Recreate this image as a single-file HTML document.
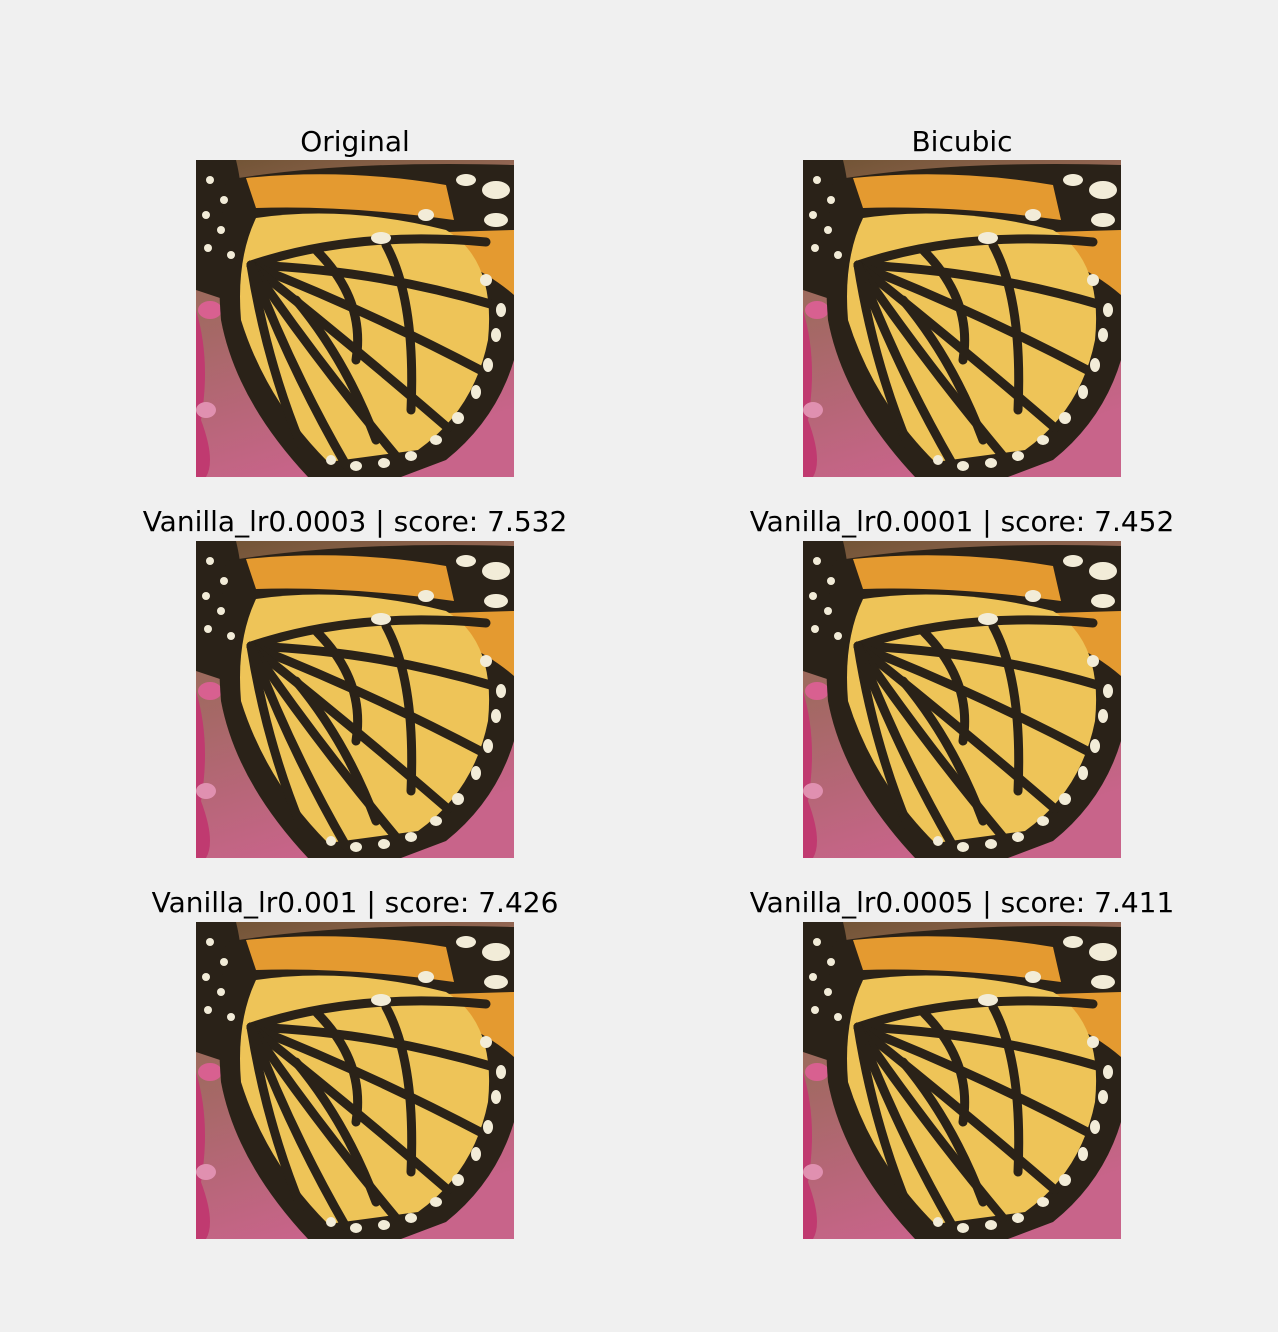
<!DOCTYPE html>
<html><head><meta charset="utf-8">
<style>
html,body{margin:0;padding:0;background:#f0f0f0;}
#fig{position:relative;width:1278px;height:1332px;background:#f0f0f0;font-family:"DejaVu Sans","Liberation Sans",sans-serif;}
.t{position:absolute;width:600px;text-align:center;font-size:28px;color:#000;line-height:32px;}
.p{position:absolute;width:318px;height:317px;}
</style></head><body>
<div id="fig">
<svg width="0" height="0" style="position:absolute">
<defs>
<linearGradient id="bg" x1="0" y1="0" x2="0.3" y2="1">
<stop offset="0" stop-color="#6e5232"/><stop offset="0.35" stop-color="#9a6a5a"/><stop offset="1" stop-color="#c8648a"/>
</linearGradient>
<g id="bfly">
<rect width="318" height="317" fill="url(#bg)"/>
<path d="M0,150 Q15,200 5,260 Q20,300 10,317 L0,317Z" fill="#c03a70"/>
<ellipse cx="14" cy="150" rx="12" ry="9" fill="#d86090"/>
<ellipse cx="10" cy="250" rx="10" ry="8" fill="#e090b0"/>
<path d="M0,0 L40,0 Q50,40 45,100 L30,140 L0,130Z" fill="#2a2218"/>
<path d="M30,20 Q150,0 318,5 L318,200 Q300,260 250,300 L205,317 L112,317 Q40,240 25,160 Q20,100 30,20Z" fill="#2a2218"/>
<path d="M50,18 Q150,8 250,25 L258,60 Q150,45 60,48Z" fill="#e49a30"/>
<path d="M250,72 L318,70 L318,135 Q295,115 262,100Z" fill="#e49a30"/>
<path d="M60,58 Q150,45 250,70 Q300,100 292,180 Q278,250 222,290 L132,302 Q70,240 45,160 Q40,100 60,58Z" fill="#eec458"/>
<g stroke="#2a2218" stroke-width="9" fill="none" stroke-linecap="round">
<path d="M55,105 Q160,70 290,82"/><path d="M55,105 Q180,110 298,145"/>
<path d="M55,105 Q170,150 288,212"/><path d="M55,105 Q150,180 252,268"/>
<path d="M55,105 Q120,200 200,296"/><path d="M55,105 Q95,210 150,305"/>
<path d="M55,105 Q70,200 105,285"/>
<path d="M120,90 Q170,140 160,200"/><path d="M190,85 Q220,140 215,250"/>
<path d="M100,140 Q150,200 180,280"/>
</g>
<g fill="#f2ecd8">
<ellipse cx="300" cy="30" rx="14" ry="9"/><ellipse cx="270" cy="20" rx="10" ry="6"/>
<ellipse cx="300" cy="60" rx="12" ry="7"/><ellipse cx="305" cy="150" rx="5" ry="7"/>
<ellipse cx="300" cy="175" rx="5" ry="7"/><ellipse cx="292" cy="205" rx="5" ry="7"/>
<ellipse cx="280" cy="232" rx="5" ry="7"/><ellipse cx="262" cy="258" rx="6" ry="6"/>
<ellipse cx="240" cy="280" rx="6" ry="5"/><ellipse cx="215" cy="296" rx="6" ry="5"/>
<ellipse cx="188" cy="303" rx="6" ry="5"/><ellipse cx="160" cy="306" rx="6" ry="5"/>
<ellipse cx="135" cy="300" rx="5" ry="5"/><ellipse cx="290" cy="120" rx="6" ry="6"/>
<ellipse cx="230" cy="55" rx="8" ry="6"/><ellipse cx="185" cy="78" rx="10" ry="6"/>
<ellipse cx="14" cy="20" rx="4" ry="4"/><ellipse cx="28" cy="40" rx="4" ry="4"/>
<ellipse cx="10" cy="55" rx="4" ry="4"/><ellipse cx="25" cy="70" rx="4" ry="4"/>
<ellipse cx="12" cy="88" rx="4" ry="4"/><ellipse cx="35" cy="95" rx="4" ry="4"/>
</g>
</g>
</defs></svg>

<div class="t" style="left:55px;top:126px">Original</div>
<div class="t" style="left:662px;top:126px">Bicubic</div>
<div class="t" style="left:55px;top:506px">Vanilla_lr0.0003 | score: 7.532</div>
<div class="t" style="left:662px;top:506px">Vanilla_lr0.0001 | score: 7.452</div>
<div class="t" style="left:55px;top:887px">Vanilla_lr0.001 | score: 7.426</div>
<div class="t" style="left:662px;top:887px">Vanilla_lr0.0005 | score: 7.411</div>

<svg class="p" style="left:196px;top:160px" viewBox="0 0 318 317"><use href="#bfly"/></svg>
<svg class="p" style="left:803px;top:160px" viewBox="0 0 318 317"><use href="#bfly"/></svg>
<svg class="p" style="left:196px;top:541px" viewBox="0 0 318 317"><use href="#bfly"/></svg>
<svg class="p" style="left:803px;top:541px" viewBox="0 0 318 317"><use href="#bfly"/></svg>
<svg class="p" style="left:196px;top:922px" viewBox="0 0 318 317"><use href="#bfly"/></svg>
<svg class="p" style="left:803px;top:922px" viewBox="0 0 318 317"><use href="#bfly"/></svg>
</div>
</body></html>
